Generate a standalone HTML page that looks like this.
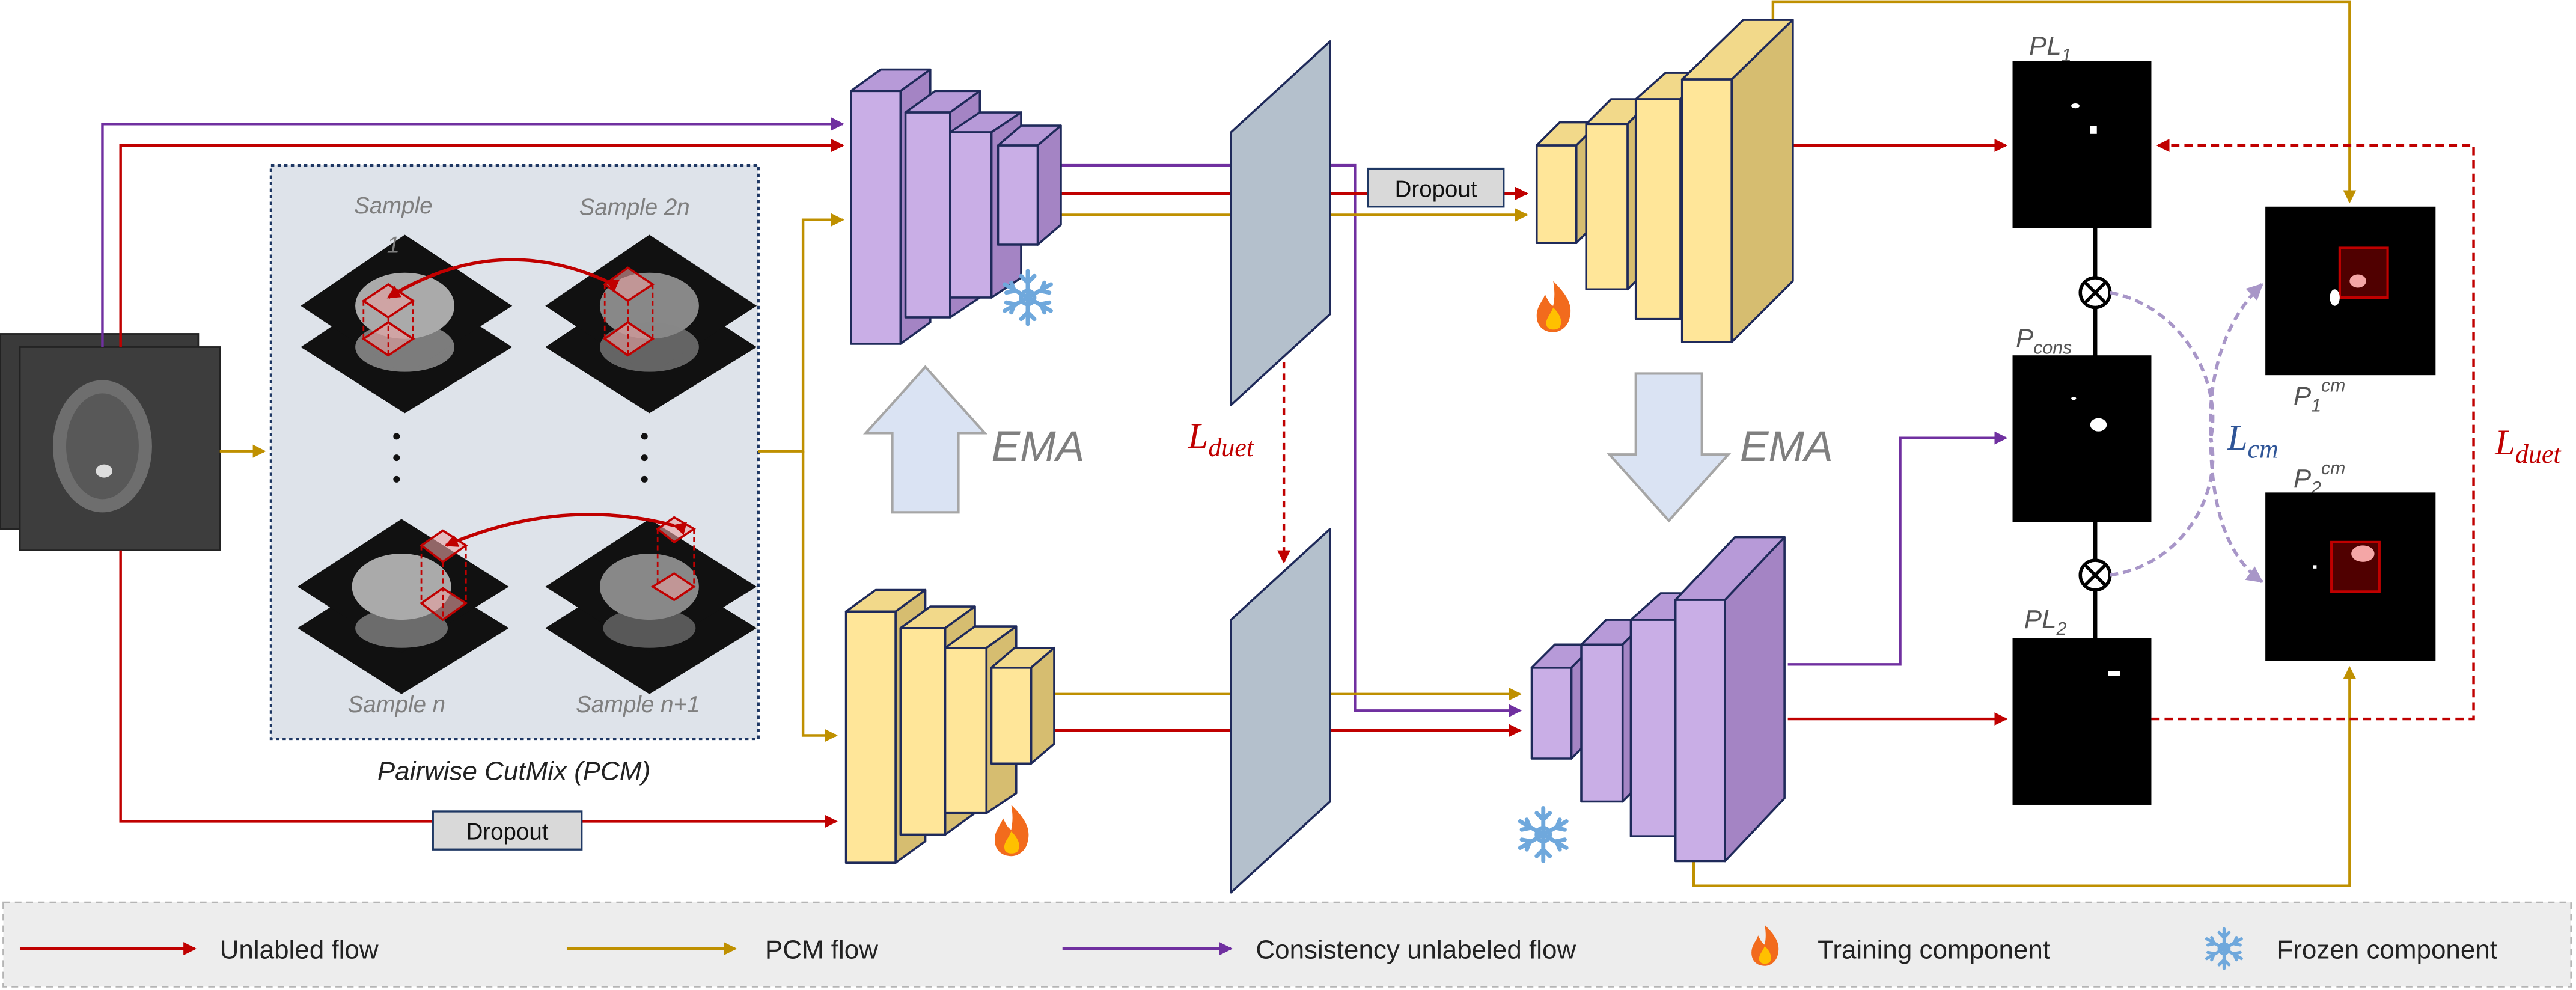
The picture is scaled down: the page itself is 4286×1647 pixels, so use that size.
<!DOCTYPE html>
<html><head><meta charset="utf-8"><style>
html,body{margin:0;padding:0;background:#fff}
svg{display:block}
text{font-family:"Liberation Sans",sans-serif}
.m{font-family:"Liberation Serif",serif;font-style:italic}
</style></head><body>
<svg width="4286" height="1647" viewBox="0 0 1559 599" xmlns="http://www.w3.org/2000/svg">
<defs>
<marker id="ar" markerWidth="8" markerHeight="8" refX="7" refY="4" orient="auto" markerUnits="userSpaceOnUse"><path d="M0,0 L8,4 L0,8z" fill="#c00000"/></marker>
<marker id="ag" markerWidth="8" markerHeight="8" refX="7" refY="4" orient="auto" markerUnits="userSpaceOnUse"><path d="M0,0 L8,4 L0,8z" fill="#bf9000"/></marker>
<marker id="ap" markerWidth="8" markerHeight="8" refX="7" refY="4" orient="auto" markerUnits="userSpaceOnUse"><path d="M0,0 L8,4 L0,8z" fill="#7030a0"/></marker>
<marker id="al" markerWidth="10" markerHeight="10" refX="9" refY="5" orient="auto" markerUnits="userSpaceOnUse"><path d="M0,0 L10,5 L0,10z" fill="#a896c8"/></marker>
<g id="flame"><path d="M0,-18 C8,-10 12,-4 10,4 C9,10 4,13 0,13 C-5,13 -10,10 -10,3 C-10,-3 -6,-6 -5,-10 C-3,-6 -2,-4 0,-3 C1,-8 1,-12 0,-18z" fill="#f26b1d"/><path d="M0,-2 C4,2 6,6 4,10 C2,12 -3,12 -4,9 C-5,5 -2,3 0,-2z" fill="#ffc000"/></g>
<g id="snow" stroke="#6fa8dc" stroke-width="2.5" fill="none" stroke-linecap="round"><path d="M0,-16 V16 M-14,-8 L14,8 M-14,8 L14,-8 M-4,-13 L0,-9 L4,-13 M-4,13 L0,9 L4,13 M-13,-3 L-8,-4 L-10,-9 M13,3 L8,4 L10,9 M-13,3 L-8,4 L-10,9 M13,-3 L8,-4 L10,-9"/><circle r="4"/></g>
</defs>

<!-- Legend -->
<rect x="2" y="546" width="1554" height="51" fill="#ededed" stroke="#b5b5b5" stroke-dasharray="4,3"/>
<line x1="12" y1="574" x2="118" y2="574" stroke="#c00000" stroke-width="1.6" marker-end="url(#ar)"/>
<text x="133" y="580" font-size="16" fill="#222">Unlabled flow</text>
<line x1="343" y1="574" x2="445" y2="574" stroke="#bf9000" stroke-width="1.6" marker-end="url(#ag)"/>
<text x="463" y="580" font-size="16" fill="#222">PCM flow</text>
<line x1="643" y1="574" x2="745" y2="574" stroke="#7030a0" stroke-width="1.6" marker-end="url(#ap)"/>
<text x="760" y="580" font-size="16" fill="#222">Consistency unlabeled flow</text>
<use href="#flame" transform="translate(1068 574) scale(0.8)"/>
<text x="1100" y="580" font-size="16" fill="#222">Training component</text>
<use href="#snow" transform="translate(1346 574) scale(0.75)"/>
<text x="1378" y="580" font-size="16" fill="#222">Frozen component</text>

<!-- Input -->
<rect x="0" y="202" width="120" height="118" fill="#3a3a3a" stroke="#222"/>
<rect x="12" y="210" width="121" height="123" fill="#3d3d3d" stroke="#222"/>
<ellipse cx="62" cy="270" rx="30" ry="40" fill="#6e6e6e"/>
<ellipse cx="62" cy="270" rx="22" ry="32" fill="#585858"/>
<ellipse cx="63" cy="285" rx="5" ry="4" fill="#ddd"/>

<!-- PCM box -->
<rect x="164" y="100" width="295" height="347" fill="#dee3ea" stroke="#1f3864" stroke-width="1.5" stroke-dasharray="2,2"/>
<text x="311" y="472" font-size="16" fill="#222" font-style="italic" text-anchor="middle">Pairwise CutMix (PCM)</text>
<g>
<g fill="#111">
<path d="M182,210 L245,168 L310,210 L245,250z"/><path d="M182,185 L245,142 L310,185 L245,227z"/>
<path d="M330,210 L393,168 L458,210 L393,250z"/><path d="M330,185 L393,142 L458,185 L393,227z"/>
<path d="M180,380 L243,340 L308,380 L243,420z"/><path d="M180,355 L243,314 L308,355 L243,395z"/>
<path d="M330,380 L393,340 L458,380 L393,420z"/><path d="M330,355 L393,314 L458,355 L393,395z"/>
</g>
<g fill="#aaa"><ellipse cx="245" cy="185" rx="30" ry="20"/><ellipse cx="245" cy="210" rx="30" ry="15" opacity=".7"/>
<ellipse cx="393" cy="185" rx="30" ry="20" fill="#888"/><ellipse cx="393" cy="210" rx="30" ry="15" fill="#888" opacity=".7"/>
<ellipse cx="243" cy="355" rx="30" ry="20"/><ellipse cx="243" cy="380" rx="28" ry="12" opacity=".6"/>
<ellipse cx="393" cy="355" rx="30" ry="20" fill="#888"/><ellipse cx="393" cy="380" rx="28" ry="12" fill="#888" opacity=".6"/></g>
<g fill="#e8a0a0" fill-opacity=".6" stroke="#c00000" stroke-width="1.3">
<path d="M220,182 L235,172 L250,182 L235,192z"/><path d="M220,205 L235,195 L250,205 L235,215z"/>
<path d="M366,172 L380,162 L395,172 L380,182z"/><path d="M366,205 L380,195 L395,205 L380,215z"/>
<path d="M255,330 L268,321 L282,330 L268,340z"/><path d="M255,365 L268,356 L282,365 L268,375z"/>
<path d="M398,320 L408,313 L420,320 L408,328z"/><path d="M395,355 L408,347 L420,355 L408,363z"/>
</g>
<g stroke="#c00000" stroke-width="1" stroke-dasharray="3,2">
<path d="M220,182 V205 M235,192 V215 M250,182 V205 M366,172 V205 M380,182 V215 M395,172 V205 M255,330 V365 M268,340 V375 M282,330 V365 M398,320 V355 M420,320 V355"/></g>
<path d="M367,170 Q300,140 235,180" fill="none" stroke="#c00000" stroke-width="2" marker-end="url(#ar)" marker-start="url(#ar)"/>
<path d="M408,318 Q340,300 270,330" fill="none" stroke="#c00000" stroke-width="2" marker-end="url(#ar)" marker-start="url(#ar)"/>
<g fill="#111"><circle cx="240" cy="264" r="2"/><circle cx="240" cy="277" r="2"/><circle cx="240" cy="290" r="2"/><circle cx="390" cy="264" r="2"/><circle cx="390" cy="277" r="2"/><circle cx="390" cy="290" r="2"/></g>
</g>
<g font-size="14" fill="#7f7f7f" font-style="italic" text-anchor="middle">
<text x="238" y="129">Sample</text><text x="238" y="153">1</text>
<text x="384" y="130">Sample 2n</text>
<text x="240" y="431">Sample n</text>
<text x="386" y="431">Sample n+1</text>
</g>

<!-- Connectors -->
<g fill="none" stroke-width="1.6">
<path d="M62,210 V75 H510" stroke="#7030a0" marker-end="url(#ap)"/>
<path d="M73,210 V88 H510" stroke="#c00000" marker-end="url(#ar)"/>
<path d="M73,333 V497 H506" stroke="#c00000" marker-end="url(#ar)"/>
<path d="M133,273 H160" stroke="#bf9000" marker-end="url(#ag)"/>
<path d="M459,273 H486 V133 H510" stroke="#bf9000" marker-end="url(#ag)"/>
<path d="M486,273 V445 H506" stroke="#bf9000" marker-end="url(#ag)"/>
<path d="M632,100 H820 V430 H920" stroke="#7030a0" marker-end="url(#ap)"/>
<path d="M632,117 H924" stroke="#c00000" marker-end="url(#ar)"/>
<path d="M632,130 H924" stroke="#bf9000" marker-end="url(#ag)"/>
<path d="M638,420 H920" stroke="#bf9000" marker-end="url(#ag)"/>
<path d="M638,442 H920" stroke="#c00000" marker-end="url(#ar)"/>
<path d="M1085,88 H1214" stroke="#c00000" marker-end="url(#ar)"/>
<path d="M1073,12 V1 H1422 V122" stroke="#bf9000" marker-end="url(#ag)"/>
<path d="M1082,402 H1150 V265 H1214" stroke="#7030a0" marker-end="url(#ap)"/>
<path d="M1082,435 H1214" stroke="#c00000" marker-end="url(#ar)"/>
<path d="M1025,520 V536 H1422 V404" stroke="#bf9000" marker-end="url(#ag)"/>
<path d="M1302,435 H1497 V88 H1306" stroke="#c00000" stroke-dasharray="5,3" marker-end="url(#ar)"/>
<path d="M777,170 V340" stroke="#c00000" stroke-dasharray="4,3" marker-end="url(#ar)"/>
</g>

<!-- Dropout boxes -->
<rect x="828" y="102" width="82" height="23" fill="#d9d9d9" stroke="#1f3864" stroke-width="1.2"/>
<text x="869" y="119" font-size="14" text-anchor="middle" fill="#111">Dropout</text>
<rect x="262" y="491" width="90" height="23" fill="#d9d9d9" stroke="#1f3864" stroke-width="1.2"/>
<text x="307" y="508" font-size="14" text-anchor="middle" fill="#111">Dropout</text>

<!-- Blocks -->
<g stroke="#1f2a5a" stroke-width="1.3" stroke-linejoin="round">
<g fill="#c9aee6">
<path d="M515,55 L533,42 L563,42 L545,55z" fill="#b79ad8"/><path d="M545,55 L563,42 L563,195 L545,208z" fill="#a484c4"/><rect x="515" y="55" width="30" height="153"/>
<path d="M548,68 L566,55 L593,55 L575,68z" fill="#b79ad8"/><path d="M575,68 L593,55 L593,180 L575,192z" fill="#a484c4"/><rect x="548" y="68" width="27" height="124"/>
<path d="M575,80 L593,68 L618,68 L600,80z" fill="#b79ad8"/><path d="M600,80 L618,68 L618,168 L600,180z" fill="#a484c4"/><rect x="575" y="80" width="25" height="100"/>
<path d="M604,88 L618,76 L642,76 L628,88z" fill="#b79ad8"/><path d="M628,88 L642,76 L642,136 L628,148z" fill="#a484c4"/><rect x="604" y="88" width="24" height="60"/>
</g>
<g fill="#ffe699">
<path d="M512,370 L530,357 L560,357 L542,370z" fill="#f2d98a"/><path d="M542,370 L560,357 L560,509 L542,522z" fill="#d6bd70"/><rect x="512" y="370" width="30" height="152"/>
<path d="M545,380 L563,367 L590,367 L572,380z" fill="#f2d98a"/><path d="M572,380 L590,367 L590,492 L572,505z" fill="#d6bd70"/><rect x="545" y="380" width="27" height="125"/>
<path d="M572,392 L590,379 L615,379 L597,392z" fill="#f2d98a"/><path d="M597,392 L615,379 L615,480 L597,492z" fill="#d6bd70"/><rect x="572" y="392" width="25" height="100"/>
<path d="M600,404 L614,392 L638,392 L624,404z" fill="#f2d98a"/><path d="M624,404 L638,392 L638,450 L624,462z" fill="#d6bd70"/><rect x="600" y="404" width="24" height="58"/>
</g>
<path d="M745,80 L805,25 L805,190 L745,245z" fill="#b4c0cc"/>
<path d="M745,375 L805,320 L805,485 L745,540z" fill="#b4c0cc"/>
<g fill="#ffe699">
<path d="M930,88 L944,74 L968,74 L954,88z" fill="#f2d98a"/><path d="M954,88 L968,74 L968,133 L954,147z" fill="#d6bd70"/><rect x="930" y="88" width="24" height="59"/>
<path d="M960,75 L975,60 L1000,60 L985,75z" fill="#f2d98a"/><path d="M985,75 L1000,60 L1000,160 L985,175z" fill="#d6bd70"/><rect x="960" y="75" width="25" height="100"/>
<path d="M990,60 L1008,44 L1035,44 L1017,60z" fill="#f2d98a"/><path d="M1017,60 L1035,44 L1035,177 L1017,193z" fill="#d6bd70"/><rect x="990" y="60" width="27" height="133"/>
<path d="M1018,48 L1055,12 L1085,12 L1048,48z" fill="#f2d98a"/><path d="M1048,48 L1085,12 L1085,170 L1048,207z" fill="#d6bd70"/><rect x="1018" y="48" width="30" height="159"/>
</g>
<g fill="#c9aee6">
<path d="M927,404 L941,390 L965,390 L951,404z" fill="#b79ad8"/><path d="M951,404 L965,390 L965,445 L951,459z" fill="#a484c4"/><rect x="927" y="404" width="24" height="55"/>
<path d="M957,390 L972,375 L997,375 L982,390z" fill="#b79ad8"/><path d="M982,390 L997,375 L997,470 L982,485z" fill="#a484c4"/><rect x="957" y="390" width="25" height="95"/>
<path d="M987,375 L1005,359 L1032,359 L1014,375z" fill="#b79ad8"/><path d="M1014,375 L1032,359 L1032,490 L1014,506z" fill="#a484c4"/><rect x="987" y="375" width="27" height="131"/>
<path d="M1014,363 L1050,325 L1080,325 L1044,363z" fill="#b79ad8"/><path d="M1044,363 L1080,325 L1080,483 L1044,521z" fill="#a484c4"/><rect x="1014" y="363" width="30" height="158"/>
</g>
</g>

<!-- EMA arrows -->
<path d="M540,310 V262 H524 L560,222 L596,262 H580 V310z" fill="#dae3f3" stroke="#a6a6a6" stroke-width="1.5"/>
<text x="600" y="279" font-size="26" fill="#7f7f7f" font-style="italic">EMA</text>
<path d="M990,226 V275 H974 L1010,315 L1046,275 H1030 V226z" fill="#dae3f3" stroke="#a6a6a6" stroke-width="1.5"/>
<text x="1053" y="279" font-size="26" fill="#7f7f7f" font-style="italic">EMA</text>

<use href="#flame" transform="translate(940 188)"/>
<use href="#flame" transform="translate(612 505)"/>
<use href="#snow" transform="translate(622 180)"/>
<use href="#snow" transform="translate(934 505)"/>

<text x="719" y="271" font-size="22" fill="#c00000" class="m">L<tspan font-size="16" dy="5">duet</tspan></text>
<text x="1510" y="275" font-size="22" fill="#c00000" class="m">L<tspan font-size="16" dy="5">duet</tspan></text>
<text x="1348" y="272" font-size="22" fill="#2f5597" class="m">L<tspan font-size="16" dy="5">cm</tspan></text>

<line x1="1268" y1="138" x2="1268" y2="386" stroke="#000" stroke-width="2.5"/>
<rect x="1218" y="37" width="84" height="101" fill="#000"/>
<rect x="1218" y="215" width="84" height="101" fill="#000"/>
<rect x="1218" y="386" width="84" height="101" fill="#000"/>
<g fill="#fff"><ellipse cx="1256" cy="64" rx="2.5" ry="1.5"/><rect x="1265" y="76" width="4" height="5"/><ellipse cx="1255" cy="241" rx="1.5" ry="1"/><ellipse cx="1270" cy="257" rx="5" ry="4"/><rect x="1276" y="406" width="7" height="3"/></g>
<g fill="#fff" stroke="#000" stroke-width="2"><circle cx="1268" cy="177" r="9"/><circle cx="1268" cy="348" r="9"/></g>
<path d="M1262,171 L1274,183 M1274,171 L1262,183 M1262,342 L1274,354 M1274,342 L1262,354" stroke="#000" stroke-width="2"/>
<g font-size="16" fill="#555" class="m">
<text x="1228" y="33">PL<tspan font-size="11" dy="4">1</tspan></text>
<text x="1220" y="210">P<tspan font-size="11" dy="4">cons</tspan></text>
<text x="1225" y="380">PL<tspan font-size="11" dy="4">2</tspan></text>
<text x="1388" y="245">P<tspan font-size="11" dy="4">1</tspan><tspan font-size="11" dy="-12">cm</tspan></text>
<text x="1388" y="295">P<tspan font-size="11" dy="4">2</tspan><tspan font-size="11" dy="-12">cm</tspan></text>
</g>
<rect x="1371" y="125" width="103" height="102" fill="#000"/>
<rect x="1416" y="150" width="29" height="30" fill="#500000" stroke="#c00000" stroke-width="1.5"/>
<ellipse cx="1427" cy="170" rx="5" ry="4" fill="#f4a6a6"/><ellipse cx="1413" cy="180" rx="3" ry="5" fill="#fff"/>
<rect x="1371" y="298" width="103" height="102" fill="#000"/>
<rect x="1411" y="328" width="29" height="30" fill="#500000" stroke="#c00000" stroke-width="1.5"/>
<ellipse cx="1430" cy="335" rx="7" ry="5" fill="#f4a6a6"/><rect x="1400" y="342" width="2" height="2" fill="#fff"/>
<g fill="none" stroke="#a896c8" stroke-width="2" stroke-dasharray="5,3">
<path d="M1277,177 C1320,185 1345,230 1338,265 C1336,230 1345,195 1369,172" marker-end="url(#al)"/>
<path d="M1277,348 C1320,342 1345,300 1338,265 C1338,300 1345,335 1369,352" marker-end="url(#al)"/>
</g>
</svg>
</body></html>
